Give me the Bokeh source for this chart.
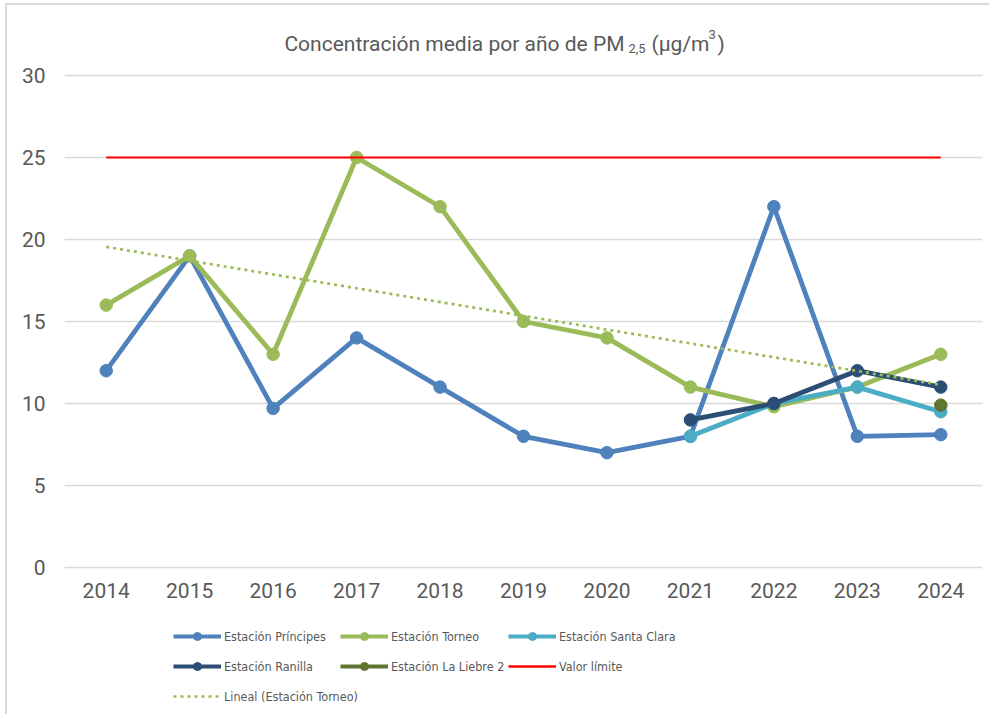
import numpy as np
from bokeh.plotting import figure
from bokeh.models import FactorRange, Range1d, Legend, LegendItem, FixedTicker, Label
from bokeh.embed import file_html
from bokeh.resources import INLINE

nan = np.nan
years = ["2014", "2015", "2016", "2017", "2018", "2019", "2020", "2021", "2022", "2023", "2024"]
principes = [12, 19, 9.7, 14, 11, 8, 7, 8, 22, 8, 8.1]
torneo = [16, 19, 13, 25, 22, 15, 14, 11, 9.8, 11, 13]
santa_clara = [nan, nan, nan, nan, nan, nan, nan, 8, 10, 11, 9.5]
ranilla = [nan, nan, nan, nan, nan, nan, nan, 9, 10, 12, 11]
la_liebre = [nan, nan, nan, nan, nan, nan, nan, nan, nan, nan, 9.9]
valor_limite = [25] * 11
trend_years = ["2014", "2024"]
trend_torneo = [19.55, 11.14]
y_ticks = [0, 5, 10, 15, 20, 25, 30]

C_PRIN = "#4F81BD"
C_TORN = "#9BBB59"
C_SANT = "#4BACC6"
C_RANI = "#2C4D75"
C_LIEB = "#5F7530"
C_LIM = "#FF0000"
TXT = "#595959"
FONT = "Roboto"
LEG_FONT = "'Liberation Sans Narrow', 'DejaVu Sans Condensed', 'Roboto Condensed', Roboto"

# page position of the figure's canvas (chart-area border drawn with CSS)
OFFX, OFFY = 7, 5
W, H = 984, 711
FRAME_L, FRAME_R = 64, 982      # page columns of the plot frame
PX_PER_UNIT = 16.4              # vertical pixels per µg/m³
ZERO_PX = 567                   # page row of the 0 gridline
TOP_PX = OFFY                   # page row of the frame top
BOT_PX = OFFY + H               # page row of the frame bottom
LEFT = FRAME_L - OFFX
RIGHT = W - (FRAME_R - OFFX)
y_top = (ZERO_PX - TOP_PX) / PX_PER_UNIT
y_bot = -(BOT_PX - ZERO_PX) / PX_PER_UNIT
x_px = (FRAME_R - FRAME_L) / len(years)

def xs(page_x):
    return (page_x - FRAME_L) / x_px

def ys(page_y):
    return (ZERO_PX - page_y) / PX_PER_UNIT

p = figure(width=W, height=H, x_range=FactorRange(factors=years),
           y_range=Range1d(y_bot, y_top), output_backend="svg",
           toolbar_location=None, title=None,
           min_border_left=LEFT, min_border_right=RIGHT,
           min_border_top=0, min_border_bottom=0)
p.styles = {"border-left": "2px solid #D9D9D9", "border-top": "2px solid #D9D9D9",
            "margin-left": "5px", "margin-top": "3px"}
p.outline_line_color = None
p.xgrid.grid_line_color = None
p.ygrid.grid_line_color = "#D9D9D9"
p.ygrid.grid_line_width = 1.5
p.yaxis.ticker = FixedTicker(ticks=y_ticks)
p.xaxis.fixed_location = 0
for ax in (p.xaxis, p.yaxis):
    ax.axis_line_color = None
    ax.major_tick_line_color = None
    ax.minor_tick_line_color = None
    ax.major_tick_out = 0
    ax.major_tick_in = 0
    ax.major_label_text_font = FONT
    ax.major_label_text_font_size = "21px"
    ax.major_label_text_color = TXT
p.yaxis.major_label_standoff = 19
p.xaxis.major_label_standoff = 15

series = [
    ("Estación Príncipes", principes, C_PRIN),
    ("Estación Torneo", torneo, C_TORN),
    ("Estación Santa Clara", santa_clara, C_SANT),
    ("Estación Ranilla", ranilla, C_RANI),
    ("Estación La Liebre 2", la_liebre, C_LIEB),
]
for name, vals, col in series:
    arr = np.array(vals, dtype=float)
    p.line(years, arr, line_color=col, line_width=4.8, line_join="round")
    p.scatter(years, arr, size=12.5, fill_color=col, line_color=col)

p.line(years, valor_limite, line_color=C_LIM, line_width=2)
p.line(trend_years, trend_torneo, line_color=C_TORN, line_width=2.7,
       line_dash="3 4")

# title pieces: subscript 2,5 and superscript 3
def title_piece(px, py, text, size, align="left"):
    p.add_layout(Label(x=xs(px), y=ys(py), text=text, text_align=align,
                       text_baseline="alphabetic", text_font=FONT,
                       text_font_size=size, text_color=TXT))

title_piece(624, 43, "Concentración media por año de PM", "21px", align="right")
title_piece(628, 47.5, "2,5", "13px")
title_piece(651, 43, "(µg/m", "21px")
title_piece(708, 34, "3", "13px")
title_piece(717, 43, ")", "21px")

# legend proxies (renderers whose only value is NaN, so they draw nothing)
def proxy(col, marker=True, dash="solid", width=4):
    rs = [p.line([years[0]], [nan], line_color=col, line_width=width, line_dash=dash)]
    if marker:
        rs.append(p.scatter([years[0]], [nan], size=8, fill_color=col, line_color=col))
    return rs

items = {
    "Estación Príncipes": proxy(C_PRIN),
    "Estación Torneo": proxy(C_TORN),
    "Estación Santa Clara": proxy(C_SANT),
    "Estación Ranilla": proxy(C_RANI),
    "Estación La Liebre 2": proxy(C_LIEB),
    "Valor límite": proxy(C_LIM, marker=False, width=2.5),
    "Lineal (Estación Torneo)": proxy(C_TORN, marker=False, dash="3 4", width=2.7),
}

ROW, GLYPH_H = 30, 20
columns = [
    (["Estación Príncipes", "Estación Ranilla", "Lineal (Estación Torneo)"], 173),
    (["Estación Torneo", "Estación La Liebre 2"], 340),
    (["Estación Santa Clara", "Valor límite"], 508),
]
for names, gx in columns:
    bottom_page = 636 - GLYPH_H / 2 + ROW * (len(names) - 1) + GLYPH_H
    lg = Legend(items=[LegendItem(label=n, renderers=items[n]) for n in names],
                location=(gx - FRAME_L, BOT_PX - bottom_page), orientation="vertical",
                glyph_width=48, glyph_height=GLYPH_H, label_height=GLYPH_H,
                label_standoff=3, spacing=ROW - GLYPH_H, padding=0, margin=0,
                border_line_color=None, background_fill_alpha=0,
                label_text_font=LEG_FONT,
                label_text_font_size="12.5px", label_text_color=TXT)
    p.add_layout(lg, "center")

open("out.html", "w").write(file_html(p, INLINE))
